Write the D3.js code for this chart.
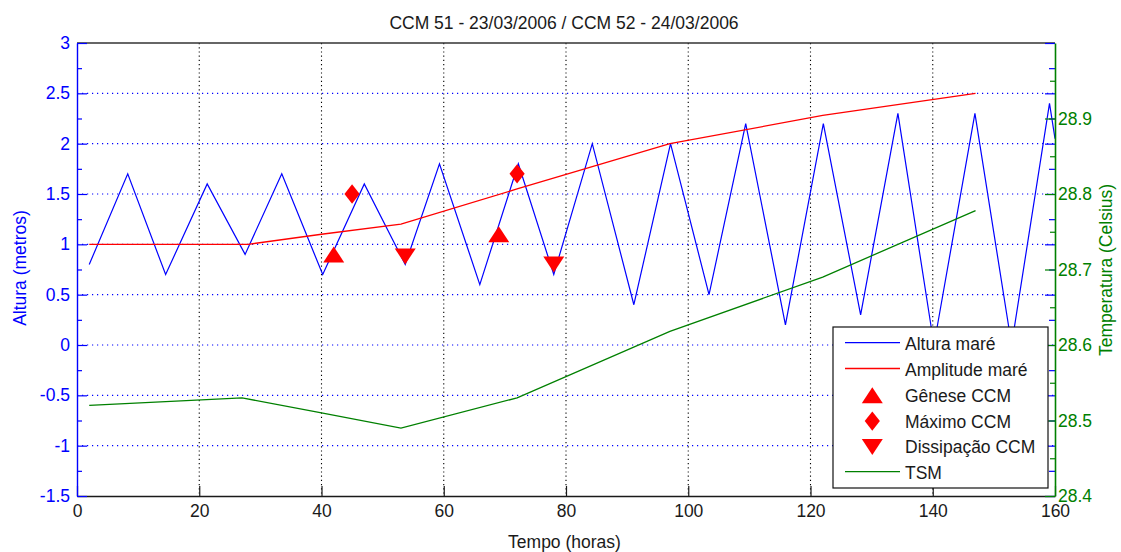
<!DOCTYPE html>
<html><head><meta charset="utf-8">
<script src="https://cdn.jsdelivr.net/npm/d3@7"></script>
<style>body{margin:0;background:#fff} svg{display:block} text{font-family:"Liberation Sans",Arial,sans-serif}</style>
</head><body><svg id="chart" width="1121" height="552"></svg>
<script>
// ---- data ----
const titulo = "CCM 51 - 23/03/2006 / CCM 52 - 24/03/2006";
const alturaHoras = [2, 8.3, 14.5, 21.3, 27.5, 33.5, 40.2, 47, 53.7, 59.3, 65.9, 72.2, 78, 84.3, 91.1, 97.1, 103.4, 109.4, 115.9, 122.1, 128.2, 134.3, 140.2, 146.9, 152.9, 159.1, 160];
const alturaMare = [0.8, 1.7, 0.7, 1.6, 0.9, 1.7, 0.7, 1.6, 0.8, 1.8, 0.6, 1.8, 0.7, 2.0, 0.4, 2.0, 0.5, 2.2, 0.2, 2.2, 0.3, 2.3, 0.0, 2.3, 0.0, 2.4, 2.05];
const amplitudeHoras = [2, 28, 40, 53, 72, 97, 122, 147];
const amplitudeMare = [1.0, 1.0, 1.1, 1.2, 1.55, 2.0, 2.28, 2.5];
const tsmHoras = [2, 27, 40, 53, 72, 97, 122, 147];
const tsm = [28.52, 28.53, 28.51, 28.49, 28.53, 28.618, 28.69, 28.778];
const geneseHoras = [42, 69], geneseAltura = [0.9, 1.1];
const maximoHoras = [45, 72], maximoAltura = [1.5, 1.7];
const dissipHoras = [53.7, 78], dissipAltura = [0.88, 0.8];
const xTicks = [0, 20, 40, 60, 80, 100, 120, 140, 160];
const yTicks = [-1.5, -1, -0.5, 0, 0.5, 1, 1.5, 2, 2.5, 3];
const y2Ticks = [28.4, 28.5, 28.6, 28.7, 28.8, 28.9];
const legendLabels = ["Altura maré", "Amplitude maré", "Gênese CCM", "Máximo CCM", "Dissipação CCM", "TSM"];

// ---- layout ----
const L = 77, R = 1055, T = 43, B = 496;
const FS = 17.5;
const BLUE = "#0000ff", RED = "#ff0000", GREEN = "#008000", DARK = "#1a1a1a";
const svg = d3.select("#chart");
const x = d3.scaleLinear().domain([0, 160]).range([L, R]);
const y = d3.scaleLinear().domain([-1.5, 3]).range([B, T]);
const y2 = d3.scaleLinear().domain([28.4, 29.0]).range([B, T]);

svg.append("defs").append("clipPath").attr("id", "clip")
  .append("rect").attr("x", L).attr("y", T).attr("width", R - L).attr("height", B - T);

// grid
svg.append("g").selectAll("line").data(xTicks.slice(1, -1)).join("line")
  .attr("x1", d => x(d)).attr("x2", d => x(d)).attr("y1", T).attr("y2", B)
  .attr("stroke", "#000").attr("stroke-width", 1.1).attr("stroke-dasharray", "1.2,3");
svg.append("g").selectAll("line").data(yTicks.slice(1, -1)).join("line")
  .attr("x1", L).attr("x2", R).attr("y1", d => y(d)).attr("y2", d => y(d))
  .attr("stroke", BLUE).attr("stroke-width", 1.1).attr("stroke-dasharray", "1.2,3.8");

const gData = svg.append("g").attr("clip-path", "url(#clip)");
const line = d3.line();
gData.append("path").attr("d", line(alturaHoras.map((h, i) => [x(h), y(alturaMare[i])])))
  .attr("fill", "none").attr("stroke", BLUE).attr("stroke-width", 1.2);
gData.append("path").attr("d", line(amplitudeHoras.map((h, i) => [x(h), y(amplitudeMare[i])])))
  .attr("fill", "none").attr("stroke", RED).attr("stroke-width", 1.3);
gData.append("path").attr("d", line(tsmHoras.map((h, i) => [x(h), y2(tsm[i])])))
  .attr("fill", "none").attr("stroke", GREEN).attr("stroke-width", 1.3);

const symUp = "M0,-8L10.5,8L-10.5,8Z";
const symDiamond = "M0,-9.7L7.6,0L0,9.7L-7.6,0Z";
const symDown = "M0,8L10.5,-8L-10.5,-8Z";
function markers(hs, vs, p) {
  gData.append("g").selectAll("path").data(hs).join("path")
    .attr("d", p).attr("fill", RED)
    .attr("transform", (h, i) => `translate(${x(h)},${y(vs[i])})`);
}
markers(geneseHoras, geneseAltura, symUp);
markers(maximoHoras, maximoAltura, symDiamond);
markers(dissipHoras, dissipAltura, symDown);

// axes
const gx = svg.append("g").attr("transform", `translate(0,${B})`)
  .call(d3.axisBottom(x).tickValues(xTicks).tickSizeInner(-10).tickSizeOuter(0).tickPadding(9).tickFormat(d3.format("d")));
gx.select(".domain").attr("stroke", DARK).attr("stroke-width", 1.4);
gx.selectAll(".tick line").attr("stroke", DARK).attr("stroke-width", 1.2);
gx.selectAll("text").attr("fill", DARK).style("font-size", FS + "px");

svg.append("line").attr("x1", L).attr("x2", R).attr("y1", T).attr("y2", T)
  .attr("stroke", "#333").attr("stroke-width", 1.6);

const minorY = d3.range(-1.25, 3, 0.5);
const gyMinor = svg.append("g").attr("transform", `translate(${L},0)`)
  .call(d3.axisLeft(y).tickValues(minorY).tickSizeInner(-5).tickSizeOuter(0).tickFormat(""));
gyMinor.select(".domain").remove();
gyMinor.selectAll("line").attr("stroke", BLUE).attr("stroke-width", 1.2);
const gy = svg.append("g").attr("transform", `translate(${L},0)`)
  .call(d3.axisLeft(y).tickValues(yTicks).tickSizeInner(-10).tickSizeOuter(0).tickPadding(7).tickFormat(d => String(d)));
gy.select(".domain").attr("stroke", BLUE).attr("stroke-width", 1.4);
gy.selectAll(".tick line").attr("stroke", BLUE).attr("stroke-width", 1.2);
gy.selectAll("text").attr("fill", BLUE).style("font-size", FS + "px");

// mirrored blue ticks on right side
const gyR = svg.append("g").attr("transform", `translate(${R},0)`)
  .call(d3.axisRight(y).tickValues(yTicks).tickSizeInner(-10).tickSizeOuter(0).tickFormat(""));
gyR.select(".domain").remove();
gyR.selectAll("line").attr("stroke", BLUE).attr("stroke-width", 1.2);
const gyRm = svg.append("g").attr("transform", `translate(${R},0)`)
  .call(d3.axisRight(y).tickValues(minorY).tickSizeInner(-6).tickSizeOuter(0).tickFormat(""));
gyRm.select(".domain").remove();
gyRm.selectAll("line").attr("stroke", BLUE).attr("stroke-width", 1.2);

// right axis (temperature)
const minorY2 = [28.45, 28.55, 28.65, 28.75, 28.85, 28.95];
const g2m = svg.append("g").attr("transform", `translate(${R},0)`)
  .call(d3.axisRight(y2).tickValues(minorY2).tickSizeInner(-5).tickSizeOuter(0).tickFormat(""));
g2m.select(".domain").remove();
g2m.selectAll("line").attr("stroke", GREEN).attr("stroke-width", 1.2);
const g2 = svg.append("g").attr("transform", `translate(${R},0)`)
  .call(d3.axisRight(y2).tickValues(y2Ticks).tickSizeInner(-10).tickSizeOuter(0).tickPadding(3).tickFormat(d3.format(".1f")));
g2.select(".domain").attr("stroke", GREEN).attr("stroke-width", 1.6);
g2.selectAll(".tick line").attr("stroke", GREEN).attr("stroke-width", 1.2);
g2.selectAll("text").attr("fill", GREEN).style("font-size", FS + "px");

// titles
svg.append("text").attr("x", 564).attr("y", 29).attr("text-anchor", "middle")
  .attr("fill", DARK).style("font-size", FS + "px").text(titulo);
svg.append("text").attr("x", 564.5).attr("y", 548).attr("text-anchor", "middle")
  .attr("fill", DARK).style("font-size", FS + "px").text("Tempo (horas)");
svg.append("text").attr("transform", "translate(26,268) rotate(-90)").attr("text-anchor", "middle")
  .attr("fill", BLUE).style("font-size", FS + "px").text("Altura (metros)");
svg.append("text").attr("transform", "translate(1112,270) rotate(-90)").attr("text-anchor", "middle")
  .attr("fill", GREEN).style("font-size", FS + "px").text("Temperatura (Celsius)");

// legend
const lg = svg.append("g");
lg.append("rect").attr("x", 833).attr("y", 327).attr("width", 215).attr("height", 161)
  .attr("fill", "#fff").attr("stroke", "#111").attr("stroke-width", 1.2);
const rowY = i => 343.7 + i * 25.8;
const kinds = [["line", BLUE], ["line", RED], ["sym", symUp], ["sym", symDiamond], ["sym", symDown], ["line", GREEN]];
kinds.forEach((k, i) => {
  if (k[0] === "line") {
    lg.append("line").attr("x1", 845).attr("x2", 900).attr("y1", rowY(i) - 1).attr("y2", rowY(i) - 1)
      .attr("stroke", k[1]).attr("stroke-width", 1.3);
  } else {
    lg.append("path").attr("d", k[1]).attr("fill", RED)
      .attr("transform", `translate(872.3,${rowY(i)})`);
  }
  lg.append("text").attr("x", 905).attr("y", rowY(i) + 6.5).attr("fill", DARK)
    .style("font-size", FS + "px").text(legendLabels[i]);
});
</script></body></html>
